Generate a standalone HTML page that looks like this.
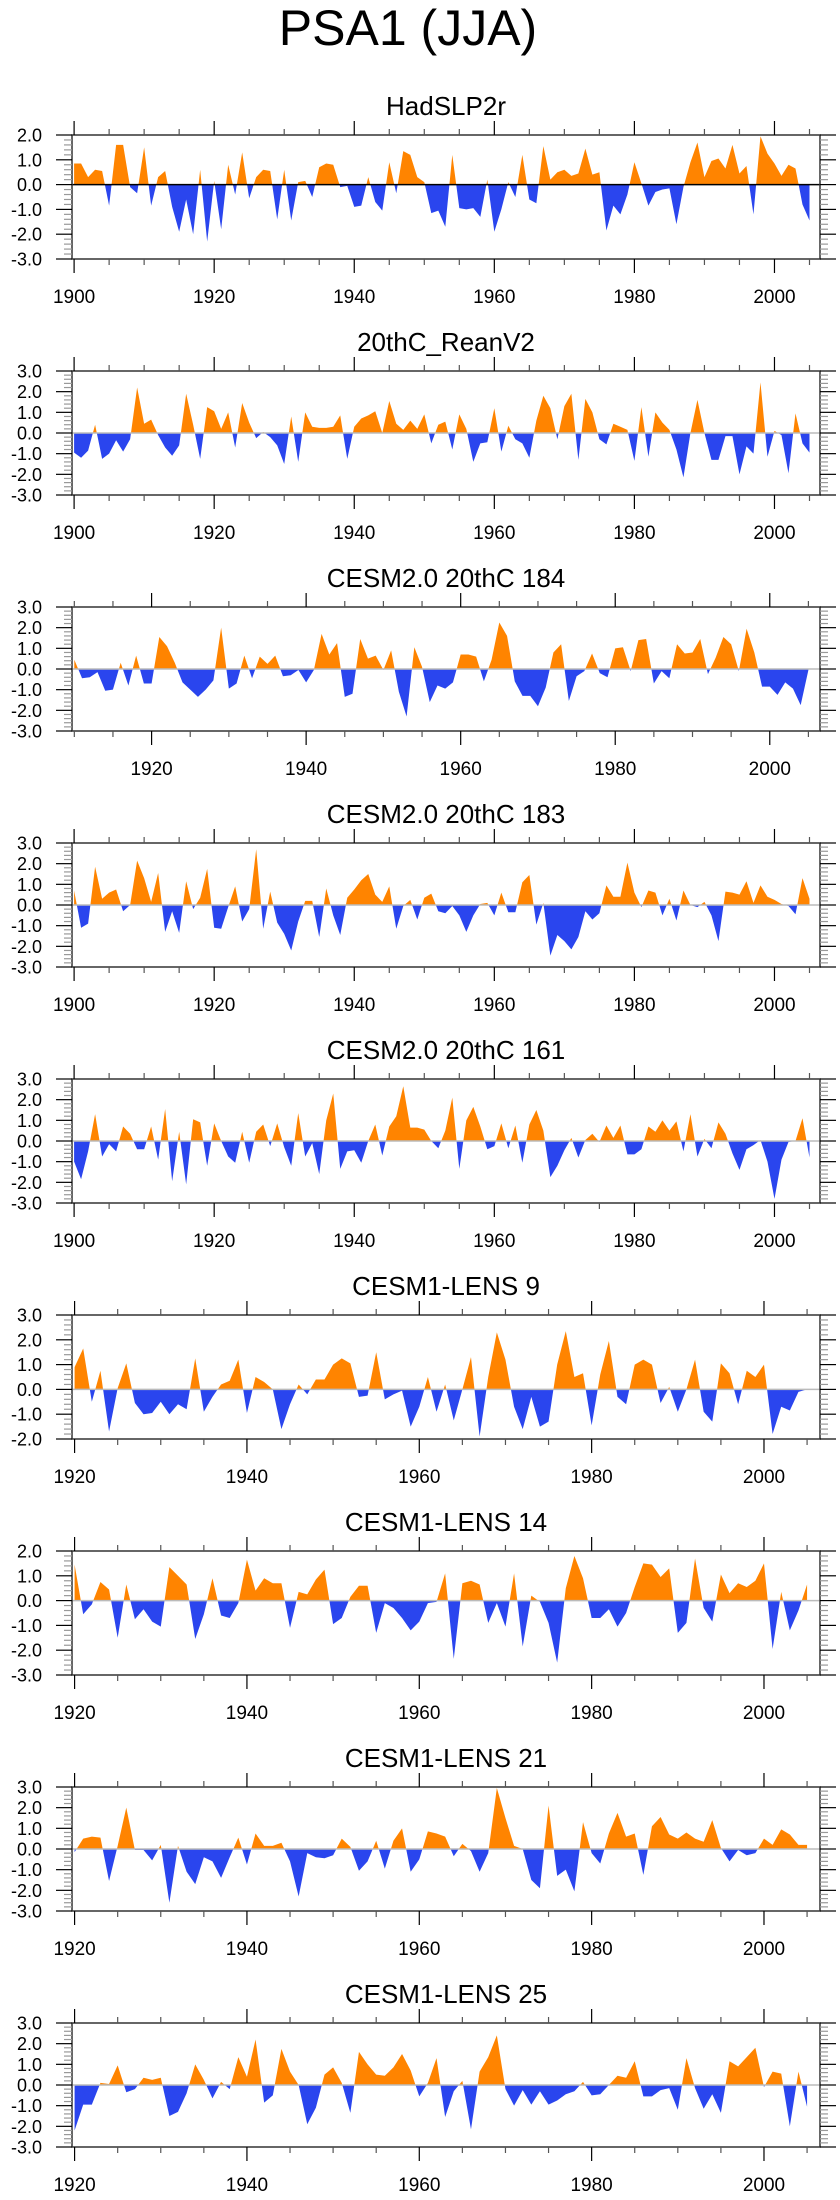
<!DOCTYPE html>
<html><head><meta charset="utf-8"><style>
html,body{margin:0;padding:0;background:#fff;}
svg{display:block;font-family:"Liberation Sans",Arial,sans-serif;}
</style></head><body>
<svg id="fig" width="840" height="2200" viewBox="0 0 840 2200" xmlns="http://www.w3.org/2000/svg">
<text x="408" y="45" font-size="50" text-anchor="middle">PSA1 (JJA)</text>
</svg>
<script>
const titles = ["HadSLP2r","20thC_ReanV2","CESM2.0 20thC 184","CESM2.0 20thC 183","CESM2.0 20thC 161","CESM1-LENS 9","CESM1-LENS 14","CESM1-LENS 21","CESM1-LENS 25"];
const startYears = [1900,1900,1910,1900,1900,1920,1920,1920,1920];
const yMaxs = [2,3,3,3,3,3,2,3,3];
const yMins = [-3,-3,-3,-3,-3,-2,-3,-3,-3];
const s0 = [0.85,0.85,0.3,0.6,0.55,-0.85,1.6,1.6,-0.1,-0.35, 1.5,-0.85,0.3,0.55,-0.9,-1.9,-0.6,-2.0,0.6,-2.3, 0.15,-1.8,0.8,-0.4,1.3,-0.55,0.3,0.6,0.55,-1.4, 0.6,-1.45,0.1,0.15,-0.5,0.7,0.85,0.8,-0.1,-0.05, -0.9,-0.85,0.3,-0.7,-1.05,0.9,-0.35,1.35,1.2,0.3, 0.1,-1.15,-1.05,-1.7,1.2,-0.95,-1.0,-0.95,-1.3,0.2, -1.9,-1.0,0.1,-0.5,1.2,-0.6,-0.75,1.55,0.2,0.5, 0.6,0.35,0.45,1.45,0.4,0.5,-1.85,-0.85,-1.2,-0.4, 0.9,0.05,-0.85,-0.3,-0.2,-0.15,-1.6,-0.1,0.9,1.7, 0.3,0.95,1.05,0.65,1.6,0.45,0.75,-1.2,1.95,1.25, 0.85,0.35,0.8,0.65,-0.8,-1.45];
const s1 = [-0.95,-1.2,-0.85,0.4,-1.25,-1.0,-0.35,-0.9,-0.3,2.2, 0.45,0.65,-0.1,-0.7,-1.1,-0.6,1.9,0.4,-1.25,1.25, 1.05,0.2,1.0,-0.7,1.45,0.5,-0.25,0.05,-0.2,-0.6, -1.5,0.8,-1.4,1.0,0.3,0.25,0.25,0.3,0.85,-1.25, 0.3,0.7,0.85,1.05,0.0,1.55,0.45,0.15,0.6,0.2, 0.9,-0.5,0.4,0.55,-0.8,0.9,0.2,-1.4,-0.5,-0.45, 1.2,-0.9,0.35,-0.3,-0.5,-1.2,0.6,1.8,1.2,-0.3, 1.3,1.9,-1.3,1.65,1.0,-0.3,-0.55,0.45,0.3,0.15, -1.35,1.25,-1.15,1.0,0.5,0.15,-0.8,-2.15,0.0,1.6, 0.0,-1.3,-1.3,-0.15,-0.15,-2.0,-0.65,-1.0,2.45,-1.15, 0.1,-0.1,-1.95,0.95,-0.5,-0.95];
const s2 = [0.45,-0.45,-0.4,-0.15,-1.05,-1.0,0.3,-0.8,0.65,-0.7, -0.7,1.55,1.1,0.3,-0.65,-1.0,-1.35,-1.0,-0.55,2.0, -0.95,-0.7,0.65,-0.45,0.6,0.25,0.65,-0.35,-0.3,-0.05, -0.65,-0.05,1.7,0.7,1.25,-1.35,-1.2,1.45,0.5,0.65, -0.05,0.9,-1.1,-2.3,1.05,0.1,-1.6,-0.8,-0.95,-0.65, 0.7,0.7,0.6,-0.6,0.45,2.25,1.6,-0.6,-1.3,-1.3, -1.8,-0.9,0.8,1.2,-1.55,-0.35,-0.1,0.75,-0.2,-0.4, 1.0,1.05,-0.1,1.4,1.45,-0.7,-0.1,-0.45,1.2,0.75, 0.8,1.45,-0.25,0.55,1.55,1.2,-0.1,1.95,0.8,-0.85, -0.85,-1.25,-0.65,-0.95,-1.75,-0.05];
const s3 = [0.7,-1.1,-0.9,1.85,0.3,0.6,0.75,-0.3,0.0,2.15, 1.3,0.15,1.55,-1.3,-0.3,-1.35,1.15,-0.2,0.35,1.75, -1.1,-1.15,-0.1,0.9,-0.8,-0.2,2.7,-1.15,0.65,-0.85, -1.4,-2.2,-0.8,0.2,0.2,-1.55,0.8,-0.5,-1.45,0.35, 0.75,1.2,1.5,0.5,0.15,0.9,-1.15,-0.05,0.25,-0.7, 0.35,0.55,-0.3,-0.4,-0.05,-0.5,-1.3,-0.5,0.05,0.1, -0.5,0.6,-0.35,-0.35,1.1,1.45,-0.95,0.1,-2.45,-1.45, -1.75,-2.15,-1.55,-0.3,-0.7,-0.4,0.95,0.4,0.4,2.05, 0.6,-0.1,0.7,0.6,-0.5,0.3,-0.75,0.7,0.0,-0.1, 0.15,-0.5,-1.75,0.65,0.6,0.5,1.15,0.1,0.95,0.4, 0.25,0.05,-0.05,-0.45,1.3,0.3];
const s4 = [-1.0,-1.85,-0.5,1.3,-0.75,-0.15,-0.5,0.7,0.35,-0.4, -0.4,0.7,-0.9,1.55,-1.95,0.45,-2.1,1.05,0.9,-1.2, 0.85,0.0,-0.75,-1.05,0.45,-1.05,0.45,0.8,-0.25,0.85, -0.3,-1.2,1.35,-0.75,-0.1,-1.6,1.0,2.3,-1.35,-0.5, -0.45,-1.05,0.0,0.8,-0.7,0.7,1.2,2.65,0.65,0.65, 0.55,0.0,-0.35,0.5,2.1,-1.35,1.0,1.65,0.7,-0.4, -0.25,0.85,-0.35,0.75,-1.05,0.8,1.5,0.5,-1.75,-1.2, -0.45,0.15,-0.8,0.05,0.35,-0.05,0.75,0.15,0.75,-0.65, -0.65,-0.4,0.7,0.45,1.0,0.5,0.95,-0.5,1.3,-0.75, 0.1,-0.35,0.9,0.35,-0.6,-1.4,-0.4,-0.2,0.05,-1.0, -2.8,-0.9,-0.05,0.0,1.1,-0.8];
const s5 = [0.9,1.65,-0.5,0.75,-1.7,0.05,1.05,-0.55,-1.0,-0.95, -0.5,-1.0,-0.6,-0.8,1.25,-0.9,-0.3,0.2,0.35,1.2, -0.95,0.5,0.3,0.0,-1.6,-0.6,0.2,-0.2,0.4,0.4, 1.0,1.25,1.05,-0.3,-0.25,1.5,-0.4,-0.2,-0.05,-1.5, -0.7,0.5,-0.9,0.2,-1.25,0.0,1.3,-1.9,0.5,2.3, 1.2,-0.7,-1.6,-0.3,-1.5,-1.3,1.0,2.35,0.5,0.65, -1.45,0.6,1.95,-0.3,-0.6,1.0,1.2,1.0,-0.55,0.1, -0.9,0.0,1.2,-0.9,-1.3,1.05,0.65,-0.6,0.75,0.5, 1.0,-1.8,-0.7,-0.85,-0.1,0.0];
const s6 = [1.45,-0.55,-0.15,0.75,0.45,-1.5,0.65,-0.75,-0.35,-0.85, -1.05,1.35,1.0,0.65,-1.55,-0.55,0.9,-0.6,-0.7,-0.1, 1.65,0.4,0.9,0.7,0.7,-1.1,0.35,0.25,0.85,1.25, -0.95,-0.7,0.15,0.6,0.6,-1.3,-0.1,-0.3,-0.7,-1.2, -0.85,-0.1,-0.05,1.1,-2.35,0.7,0.8,0.65,-0.9,-0.1, -1.05,1.1,-1.85,0.2,-0.05,-0.9,-2.5,0.5,1.8,0.9, -0.7,-0.7,-0.35,-1.05,-0.5,0.55,1.5,1.45,0.95,1.3, -1.3,-0.9,1.7,-0.3,-0.85,1.05,0.3,0.7,0.55,0.8, 1.5,-1.95,0.35,-1.2,-0.4,0.65];
const s7 = [-0.15,0.5,0.6,0.55,-1.55,0.15,2.0,-0.05,-0.05,-0.55, 0.2,-2.6,0.15,-1.1,-1.7,-0.4,-0.6,-1.4,-0.4,0.55, -0.75,0.75,0.15,0.15,0.3,-0.6,-2.3,-0.2,-0.4,-0.45, -0.3,0.5,0.1,-1.05,-0.6,0.4,-0.95,0.4,1.0,-1.1, -0.5,0.85,0.75,0.6,-0.35,0.25,-0.1,-1.1,-0.2,2.95, 1.5,0.15,0.0,-1.5,-1.9,2.1,-1.3,-1.0,-2.05,1.3, -0.2,-0.7,0.75,1.75,0.6,0.75,-1.25,1.1,1.55,0.7, 0.5,0.8,0.5,0.35,1.4,0.05,-0.6,-0.05,-0.3,-0.2, 0.5,0.2,0.95,0.7,0.2,0.2];
const s8 = [-2.2,-0.95,-0.95,0.1,0.05,0.95,-0.35,-0.2,0.35,0.25, 0.35,-1.5,-1.3,-0.4,1.0,0.25,-0.65,0.15,-0.2,1.35, 0.4,2.2,-0.85,-0.5,1.75,0.65,0.0,-1.9,-1.1,0.5, 0.85,0.1,-1.35,1.6,1.0,0.5,0.45,0.85,1.5,0.7, -0.55,0.1,1.3,-1.55,-0.3,0.2,-2.15,0.65,1.35,2.4, -0.2,-1.0,-0.25,-0.95,-0.3,-0.95,-0.75,-0.45,-0.3,0.15, -0.5,-0.45,0.0,0.45,0.35,1.15,-0.55,-0.55,-0.25,-0.15, -1.2,1.3,-0.15,-1.15,-0.45,-1.35,1.15,0.9,1.35,1.8, -0.1,0.65,0.55,-2.0,0.65,-1.05];
const seriesList = [s0,s1,s2,s3,s4,s5,s6,s7,s8];

const NS = "http://www.w3.org/2000/svg";
const svg = document.getElementById("fig");
const FL = 72, FR = 820, FH = 124, TOP0 = 135, GAP = 236, XMAX = 2006.5;
const ORANGE = "#ff8400", BLUE = "#2a45ee";
function mk(tag, attrs, parent){ const e = document.createElementNS(NS, tag); for (const k in attrs) e.setAttribute(k, attrs[k]); (parent||svg).appendChild(e); return e; }

seriesList.forEach((vals, p) => {
  const top = TOP0 + p*GAP, bot = top + FH;
  const start = startYears[p], xmin = start - 0.3;
  const ymax = yMaxs[p], ymin = yMins[p];
  const xs = yr => FL + (yr - xmin) / (XMAX - xmin) * (FR - FL);
  const ys = v => top + (ymax - v) / (ymax - ymin) * FH;
  const g = mk("g", {});
  
  

  const t = mk("text", {x: (FL+FR)/2, y: top - 20, "font-size": 26, "text-anchor": "middle"}, g);
  t.textContent = titles[p];
  
  

  const cid = "clip" + p;
  const defs = mk("defs", {}, g);
  const c1 = mk("clipPath", {id: cid + "a"}, defs); mk("rect", {x: FL, y: top, width: FR-FL, height: ys(0)-top}, c1);
  const c2 = mk("clipPath", {id: cid + "b"}, defs); mk("rect", {x: FL, y: ys(0), width: FR-FL, height: bot-ys(0)}, c2);
  let d = "M" + xs(start) + "," + ys(0);
  vals.forEach((v, i) => { d += " L" + xs(start+i).toFixed(2) + "," + ys(v).toFixed(2); });
  d += " L" + xs(start+vals.length-1) + "," + ys(0) + " Z";
  const pos = mk("path", {d: d, fill: ORANGE, "clip-path": "url(#" + cid + "a)"}, g);
  
  
  const neg = mk("path", {d: d, fill: BLUE, "clip-path": "url(#" + cid + "b)"}, g);
  
  

  const zl = mk("line", {x1: FL, x2: FR, y1: ys(0), y2: ys(0), stroke: p===0 ? "#000" : "#bbb", "stroke-width": 1.5}, g);
  
  

  const fr = mk("rect", {x: FL, y: top, width: FR-FL, height: FH, fill: "none", stroke: "#333", "stroke-width": 1.5}, g);
  
  

  for (let yr = Math.ceil(xmin/5)*5; yr <= XMAX; yr += 5) {
    const x = xs(yr), major = yr % 20 === 0, L = major ? 14 : 6;
    mk("line", {x1: x, x2: x, y1: top, y2: top - L, stroke: major ? "#000" : "#555", "stroke-width": 1.2}, g);
    mk("line", {x1: x, x2: x, y1: bot, y2: bot + L, stroke: major ? "#000" : "#555", "stroke-width": 1.2}, g);
    if (major) {
      const lb = mk("text", {x: x, y: bot + 44, "font-size": 19, "text-anchor": "middle"}, g);
      lb.textContent = String(yr);
      
      
    }
  }
  for (let k = Math.round(ymin*5); k <= Math.round(ymax*5); k++) {
    const v = k/5, y = ys(v), major = k % 5 === 0, L = major ? 16 : 8;
    mk("line", {x1: FL, x2: FL - L, y1: y, y2: y, stroke: major ? "#000" : "#999", "stroke-width": 1.2}, g);
    mk("line", {x1: FR, x2: FR + L, y1: y, y2: y, stroke: major ? "#000" : "#999", "stroke-width": 1.2}, g);
    if (major) {
      const s = v.toFixed(1);
      const lb = mk("text", {x: 42, y: y + 6.5, "font-size": 18, "text-anchor": "end"}, g);
      lb.textContent = s;
      
      
    }
  }
});
</script>
</body></html>
